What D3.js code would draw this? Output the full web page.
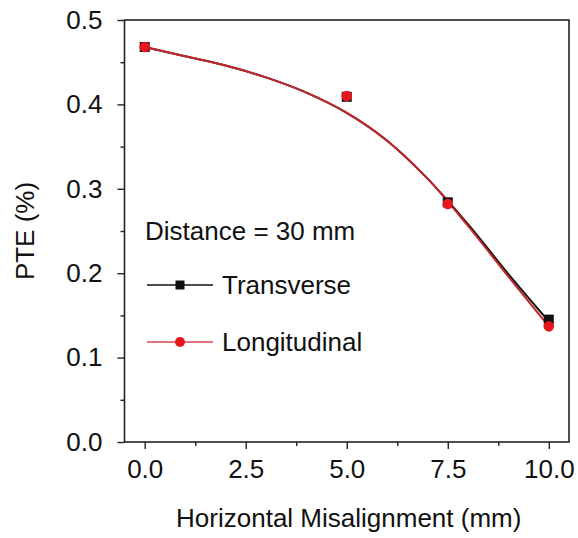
<!DOCTYPE html>
<html>
<head>
<meta charset="utf-8">
<script src="https://cdn.jsdelivr.net/npm/d3@7"></script>
<style>
  html, body { margin: 0; padding: 0; background: #fff; }
  svg { display: block; font-family: "Liberation Sans", Arial, sans-serif; }
</style>
</head>
<body>
<svg id="chart" width="578" height="538"></svg>
<script>
// Measured points
const misalignment = [0, 5, 7.5, 10];
const transverse   = [0.468, 0.409, 0.284, 0.145];
const longitudinal = [0.468, 0.410, 0.282, 0.137];

// Fitted trend curves, sampled along misalignment
const fitX            = [0, 1, 2, 3, 4, 5, 6, 7, 8, 9, 10];
const transverseFit   = [0.468, 0.457, 0.446, 0.432, 0.414, 0.390, 0.357, 0.312, 0.258, 0.199, 0.143];
const longitudinalFit = [0.468, 0.457, 0.446, 0.432, 0.414, 0.390, 0.357, 0.312, 0.256, 0.196, 0.137];

// Axis ticks
const xTicks = [0, 2.5, 5, 7.5, 10];
const xTickLabels = ["0.0", "2.5", "5.0", "7.5", "10.0"];
const xMinor = [1.25, 3.75, 6.25, 8.75];
const yTicks = [0, 0.1, 0.2, 0.3, 0.4, 0.5];
const yTickLabels = ["0.0", "0.1", "0.2", "0.3", "0.4", "0.5"];
const yMinor = [0.05, 0.15, 0.25, 0.35, 0.45];

const svg = d3.select("#chart");
const L = 124.5, R = 569, T = 20, B = 442;

const x = d3.scaleLinear().domain([-0.5, 10.5]).range([L, R]);
const y = d3.scaleLinear().domain([0, 0.5]).range([B, T]);

const red = "#e5161d";
const redLine = "#c4262b";
const fontSize = 26;
const fontFamily = "Liberation Sans, Arial, sans-serif";

// Frame
svg.append("rect")
  .attr("x", L).attr("y", T).attr("width", R - L).attr("height", B - T)
  .attr("fill", "none").attr("stroke", "#222").attr("stroke-width", 1.6);

// Bottom axis
const gx = svg.append("g").attr("transform", `translate(0,${B})`);
gx.call(d3.axisBottom(x).tickValues(xTicks).tickSize(7)
    .tickFormat((d, i) => xTickLabels[i]).tickPadding(11))
  .call(g => g.select(".domain").remove());
gx.selectAll(".tick line").attr("stroke", "#222").attr("stroke-width", 1.4);
gx.selectAll(".tick text").attr("font-size", fontSize).attr("fill", "#111")
  .style("font-family", fontFamily);
const gxm = svg.append("g").attr("transform", `translate(0,${B})`);
gxm.call(d3.axisBottom(x).tickValues(xMinor).tickSize(4).tickFormat(""))
  .call(g => g.select(".domain").remove());
gxm.selectAll(".tick line").attr("stroke", "#222").attr("stroke-width", 1.4);

// Left axis
const gy = svg.append("g").attr("transform", `translate(${L},0)`);
gy.call(d3.axisLeft(y).tickValues(yTicks).tickSize(7)
    .tickFormat((d, i) => yTickLabels[i]).tickPadding(15))
  .call(g => g.select(".domain").remove());
gy.selectAll(".tick line").attr("stroke", "#222").attr("stroke-width", 1.4);
gy.selectAll(".tick text").attr("font-size", fontSize).attr("fill", "#111")
  .style("font-family", fontFamily);
const gym = svg.append("g").attr("transform", `translate(${L},0)`);
gym.call(d3.axisLeft(y).tickValues(yMinor).tickSize(4).tickFormat(""))
  .call(g => g.select(".domain").remove());
gym.selectAll(".tick line").attr("stroke", "#222").attr("stroke-width", 1.4);

// Axis titles
svg.append("text")
  .attr("x", (L + R) / 2 + 2).attr("y", 527)
  .attr("text-anchor", "middle").attr("font-size", fontSize).attr("fill", "#111")
  .text("Horizontal Misalignment (mm)");
svg.append("text")
  .attr("transform", `translate(34,${(T + B) / 2}) rotate(-90)`)
  .attr("text-anchor", "middle").attr("font-size", fontSize).attr("fill", "#111")
  .text("PTE (%)");

// Fit curves
const line = d3.line().x(d => x(d[0])).y(d => y(d[1])).curve(d3.curveCatmullRom);
svg.append("path")
  .datum(fitX.map((v, i) => [v, transverseFit[i]]))
  .attr("d", line).attr("fill", "none").attr("stroke", "#111").attr("stroke-width", 2);
svg.append("path")
  .datum(fitX.map((v, i) => [v, longitudinalFit[i]]))
  .attr("d", line).attr("fill", "none").attr("stroke", redLine).attr("stroke-width", 2);

// Markers
const sq = 10;
svg.append("g").selectAll("rect")
  .data(misalignment.map((v, i) => [v, transverse[i]]))
  .join("rect")
  .attr("x", d => x(d[0]) - sq / 2).attr("y", d => y(d[1]) - sq / 2)
  .attr("width", sq).attr("height", sq).attr("fill", "#111");
svg.append("g").selectAll("circle")
  .data(misalignment.map((v, i) => [v, longitudinal[i]]))
  .join("circle")
  .attr("cx", d => x(d[0])).attr("cy", d => y(d[1])).attr("r", 5.3)
  .attr("fill", red);

// Legend
svg.append("text").attr("x", 145).attr("y", 240)
  .attr("font-size", fontSize).attr("fill", "#111").text("Distance = 30 mm");

const lg = svg.append("g");
lg.append("line").attr("x1", 147).attr("x2", 213).attr("y1", 285).attr("y2", 285)
  .attr("stroke", "#111").attr("stroke-width", 1.6);
lg.append("rect").attr("x", 180 - 4.5).attr("y", 285 - 4.5).attr("width", 9).attr("height", 9)
  .attr("fill", "#111");
lg.append("text").attr("x", 222).attr("y", 294)
  .attr("font-size", fontSize).attr("fill", "#111").text("Transverse");

lg.append("line").attr("x1", 147).attr("x2", 213).attr("y1", 342).attr("y2", 342)
  .attr("stroke", "#d4454a").attr("stroke-width", 1.6);
lg.append("circle").attr("cx", 180).attr("cy", 342).attr("r", 5)
  .attr("fill", red);
lg.append("text").attr("x", 222).attr("y", 351)
  .attr("font-size", fontSize).attr("fill", "#111").text("Longitudinal");
</script>
</body>
</html>
